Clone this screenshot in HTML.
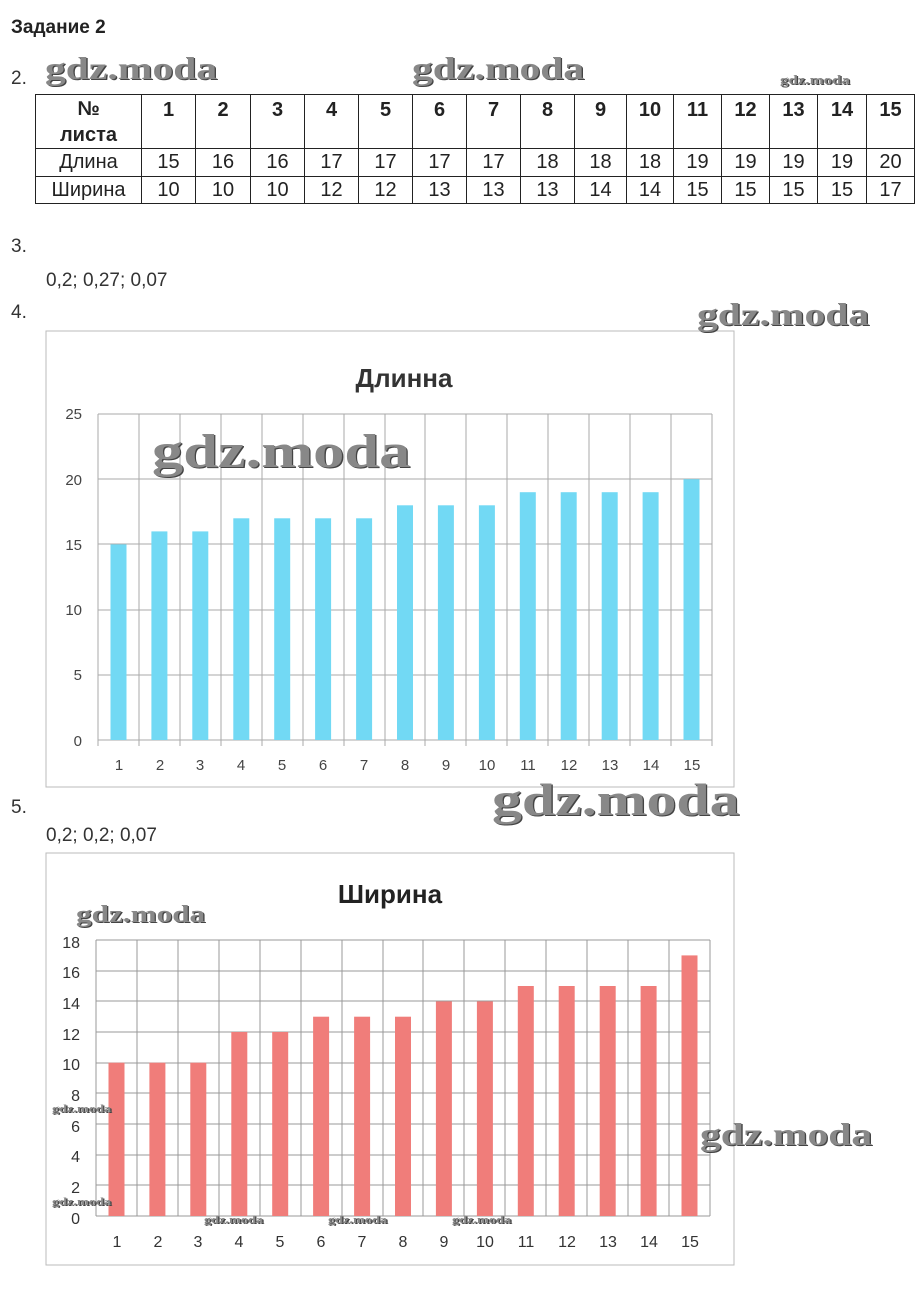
<!DOCTYPE html>
<html><head><meta charset="utf-8"><style>
body{margin:0;width:922px;height:1315px;background:#fff;font-family:"Liberation Sans",sans-serif;position:relative;overflow:hidden}
.a{position:absolute;white-space:nowrap}
table{position:absolute;left:35px;top:94px;border-collapse:collapse;font-size:20px;color:#222}
td{border:1px solid #222;text-align:center;padding:0}
.wm{position:absolute;font-family:"Liberation Serif",serif;font-weight:bold;color:#888;text-shadow:1px 1px 0 #444;white-space:nowrap;transform-origin:0 0;transform:scaleX(1.3)}
</style></head><body>
<div class="a" style="left:11px;top:17px;font-size:19px;font-weight:bold;color:#222">Задание 2</div>
<div class="a" style="left:11px;top:68px;font-size:19px;color:#333">2.</div>
<div class="wm" style="left:45px;top:50px;font-size:32px">gdz.moda</div>
<div class="wm" style="left:412px;top:50px;font-size:32px">gdz.moda</div>
<div class="wm" style="left:780px;top:72px;font-size:13px">gdz.moda</div>
<table>
<tr style="height:54px;font-weight:bold"><td style="width:105px;line-height:26px">№<br>листа</td><td style="width:53px;vertical-align:top;padding-top:4px">1</td><td style="width:54px;vertical-align:top;padding-top:4px">2</td><td style="width:53px;vertical-align:top;padding-top:4px">3</td><td style="width:53px;vertical-align:top;padding-top:4px">4</td><td style="width:53px;vertical-align:top;padding-top:4px">5</td><td style="width:53px;vertical-align:top;padding-top:4px">6</td><td style="width:53px;vertical-align:top;padding-top:4px">7</td><td style="width:53px;vertical-align:top;padding-top:4px">8</td><td style="width:51px;vertical-align:top;padding-top:4px">9</td><td style="width:46px;vertical-align:top;padding-top:4px">10</td><td style="width:47px;vertical-align:top;padding-top:4px">11</td><td style="width:47px;vertical-align:top;padding-top:4px">12</td><td style="width:47px;vertical-align:top;padding-top:4px">13</td><td style="width:48px;vertical-align:top;padding-top:4px">14</td><td style="width:47px;vertical-align:top;padding-top:4px">15</td></tr>
<tr style="height:28px"><td>Длина</td><td>15</td><td>16</td><td>16</td><td>17</td><td>17</td><td>17</td><td>17</td><td>18</td><td>18</td><td>18</td><td>19</td><td>19</td><td>19</td><td>19</td><td>20</td></tr>
<tr style="height:27px"><td>Ширина</td><td>10</td><td>10</td><td>10</td><td>12</td><td>12</td><td>13</td><td>13</td><td>13</td><td>14</td><td>14</td><td>15</td><td>15</td><td>15</td><td>15</td><td>17</td></tr>
</table>
<div class="a" style="left:11px;top:236px;font-size:19px;color:#333">3.</div>
<div class="a" style="left:46px;top:270px;font-size:19px;color:#333">0,2; 0,27; 0,07</div>
<div class="a" style="left:11px;top:302px;font-size:19px;color:#333">4.</div>
<div class="a" style="left:11px;top:797px;font-size:19px;color:#333">5.</div>
<div class="a" style="left:46px;top:825px;font-size:19px;color:#333">0,2; 0,2; 0,07</div>

<svg class="a" style="left:0;top:0" width="922" height="1315" font-family="Liberation Sans, sans-serif">
<rect x="46" y="331" width="688" height="456" fill="none" stroke="#bbb"/>
<text x="404" y="387" font-size="26" font-weight="bold" fill="#333" text-anchor="middle">Длинна</text>
<g stroke="#aaa" stroke-width="1">
<line x1="98" y1="414" x2="712" y2="414"/><line x1="98" y1="479" x2="712" y2="479"/><line x1="98" y1="544" x2="712" y2="544"/><line x1="98" y1="610" x2="712" y2="610"/><line x1="98" y1="675" x2="712" y2="675"/><line x1="98" y1="740" x2="712" y2="740"/>
</g>
<g stroke="#aaa"><path d="M98 414V746M139 414V746M180 414V746M221 414V746M262 414V746M303 414V746M344 414V746M385 414V746M425 414V746M466 414V746M507 414V746M548 414V746M589 414V746M630 414V746M671 414V746M712 414V746"/></g>
<g fill="#72d9f4">
<rect x="110.5" y="544.4" width="16" height="195.6"/><rect x="151.4" y="531.4" width="16" height="208.6"/><rect x="192.3" y="531.4" width="16" height="208.6"/><rect x="233.3" y="518.3" width="16" height="221.7"/><rect x="274.2" y="518.3" width="16" height="221.7"/><rect x="315.1" y="518.3" width="16" height="221.7"/><rect x="356.1" y="518.3" width="16" height="221.7"/><rect x="397" y="505.3" width="16" height="234.7"/><rect x="437.9" y="505.3" width="16" height="234.7"/><rect x="478.9" y="505.3" width="16" height="234.7"/><rect x="519.8" y="492.2" width="16" height="247.8"/><rect x="560.7" y="492.2" width="16" height="247.8"/><rect x="601.7" y="492.2" width="16" height="247.8"/><rect x="642.6" y="492.2" width="16" height="247.8"/><rect x="683.5" y="479.2" width="16" height="260.8"/>
</g>
<g font-size="15" fill="#444" text-anchor="end">
<text x="82" y="419">25</text><text x="82" y="485">20</text><text x="82" y="550">15</text><text x="82" y="615">10</text><text x="82" y="680">5</text><text x="82" y="746">0</text>
</g>
<g font-size="15" fill="#444" text-anchor="middle">
<text x="119" y="770">1</text><text x="160" y="770">2</text><text x="200" y="770">3</text><text x="241" y="770">4</text><text x="282" y="770">5</text><text x="323" y="770">6</text><text x="364" y="770">7</text><text x="405" y="770">8</text><text x="446" y="770">9</text><text x="487" y="770">10</text><text x="528" y="770">11</text><text x="569" y="770">12</text><text x="610" y="770">13</text><text x="651" y="770">14</text><text x="692" y="770">15</text>
</g>

<rect x="46" y="853" width="688" height="412" fill="none" stroke="#bbb"/>
<text x="390" y="903" font-size="26" font-weight="bold" fill="#222" text-anchor="middle">Ширина</text>
<g stroke="#999"><path d="M96 940H710M96 971H710M96 1001H710M96 1032H710M96 1063H710M96 1093H710M96 1124H710M96 1155H710M96 1185H710M96 1216H710"/>
<path d="M96 940V1216M137 940V1216M178 940V1216M219 940V1216M260 940V1216M301 940V1216M342 940V1216M383 940V1216M423 940V1216M464 940V1216M505 940V1216M546 940V1216M587 940V1216M628 940V1216M669 940V1216M710 940V1216"/></g>
<g fill="#f07d7a">
<rect x="108.5" y="1062.7" width="16" height="153.3"/><rect x="149.4" y="1062.7" width="16" height="153.3"/><rect x="190.3" y="1062.7" width="16" height="153.3"/><rect x="231.3" y="1032" width="16" height="184"/><rect x="272.2" y="1032" width="16" height="184"/><rect x="313.1" y="1016.7" width="16" height="199.3"/><rect x="354.1" y="1016.7" width="16" height="199.3"/><rect x="395" y="1016.7" width="16" height="199.3"/><rect x="435.9" y="1001.4" width="16" height="214.6"/><rect x="476.9" y="1001.4" width="16" height="214.6"/><rect x="517.8" y="986" width="16" height="230"/><rect x="558.7" y="986" width="16" height="230"/><rect x="599.7" y="986" width="16" height="230"/><rect x="640.6" y="986" width="16" height="230"/><rect x="681.5" y="955.4" width="16" height="260.6"/>
</g>
<g font-size="16" fill="#333" text-anchor="end">
<text x="80" y="948">18</text><text x="80" y="978">16</text><text x="80" y="1009">14</text><text x="80" y="1040">12</text><text x="80" y="1070">10</text><text x="80" y="1101">8</text><text x="80" y="1132">6</text><text x="80" y="1162">4</text><text x="80" y="1193">2</text><text x="80" y="1224">0</text>
</g>
<g font-size="16" fill="#333" text-anchor="middle">
<text x="117" y="1247">1</text><text x="158" y="1247">2</text><text x="198" y="1247">3</text><text x="239" y="1247">4</text><text x="280" y="1247">5</text><text x="321" y="1247">6</text><text x="362" y="1247">7</text><text x="403" y="1247">8</text><text x="444" y="1247">9</text><text x="485" y="1247">10</text><text x="526" y="1247">11</text><text x="567" y="1247">12</text><text x="608" y="1247">13</text><text x="649" y="1247">14</text><text x="690" y="1247">15</text>
</g>
</svg>
<div class="wm" style="left:697px;top:296px;font-size:32px">gdz.moda</div>
<div class="wm" style="left:152px;top:424px;font-size:48px">gdz.moda</div>
<div class="wm" style="left:492px;top:773px;font-size:46px">gdz.moda</div>
<div class="wm" style="left:76px;top:902px;font-size:24px">gdz.moda</div>
<div class="wm" style="left:700px;top:1116px;font-size:32px">gdz.moda</div>
<div class="wm" style="left:52px;top:1103px;font-size:11px">gdz.moda</div>
<div class="wm" style="left:52px;top:1196px;font-size:11px">gdz.moda</div>
<div class="wm" style="left:204px;top:1214px;font-size:11px">gdz.moda</div>
<div class="wm" style="left:328px;top:1214px;font-size:11px">gdz.moda</div>
<div class="wm" style="left:452px;top:1214px;font-size:11px">gdz.moda</div>
</body></html>
